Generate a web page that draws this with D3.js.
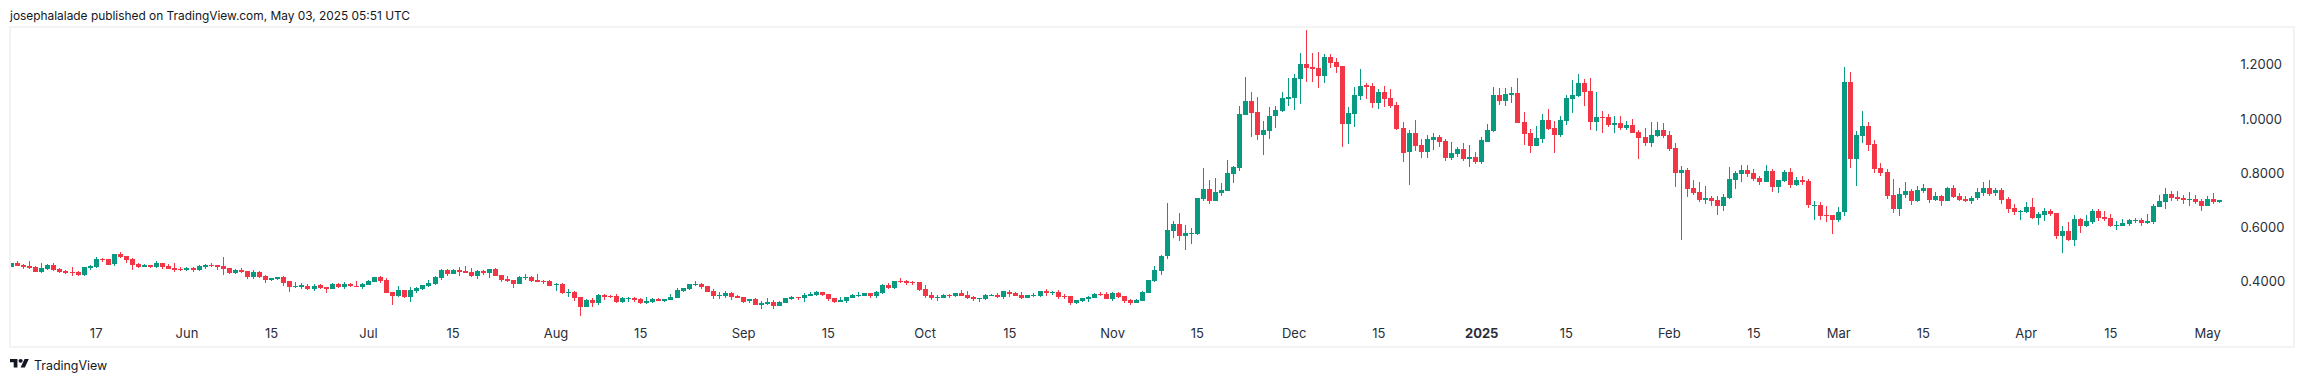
<!DOCTYPE html>
<html>
<head>
<meta charset="utf-8">
<style>
    html, body { margin: 0; padding: 0; background: #fff; }
    svg { display: block; }
    text { font-family: Inter, "Liberation Sans", sans-serif; fill: #131722; }
    .tick text { fill: #2a2e39; }
</style>
<script src="https://cdn.jsdelivr.net/npm/d3@7"></script>
</head>
<body>
<svg id="chart" width="2304" height="382"></svg>
<script>
// daily candles, first one is 2024-05-03, last one 2025-05-03
const firstDay = Date.UTC(2024, 4, 3);
const opens = [
    .455,.469,.463,.458,.454,.436,.447,.462,.447,.439,
    .436,.436,.425,.451,.454,.484,.484,.465,.502,.495,
    .484,.465,.455,.462,.454,.469,.458,.451,.448,.443,
    .451,.443,.455,.463,.462,.458,.451,.432,.443,.439,
    .417,.436,.421,.406,.410,.417,.403,.381,.382,.384,
    .374,.386,.381,.373,.392,.381,.392,.384,.381,.388,
    .399,.417,.406,.362,.347,.369,.344,.366,.373,.384,
    .392,.414,.443,.428,.443,.439,.436,.421,.439,.432,
    .447,.425,.410,.406,.392,.414,.417,.406,.403,.403,
    .387,.392,.358,.362,.344,.307,.333,.322,.351,.349,
    .347,.325,.336,.340,.336,.322,.325,.336,.329,.333,
    .340,.366,.373,.388,.392,.384,.366,.347,.347,.358,
    .347,.344,.329,.336,.314,.318,.325,.310,.322,.336,
    .344,.340,.347,.351,.362,.355,.340,.325,.329,.340,
    .347,.347,.358,.347,.358,.388,.377,.403,.403,.400,
    .399,.373,.351,.340,.340,.352,.347,.358,.351,.344,
    .336,.336,.349,.351,.344,.362,.358,.351,.340,.349,
    .347,.366,.358,.362,.347,.347,.322,.329,.336,.340,
    .356,.355,.336,.358,.347,.333,.321,.329,.358,.403,
    .440,.495,.587,.613,.569,.576,.576,.705,.742,.698,
    .727,.735,.797,.819,1.015,1.066,1.026,.941,.956,1.011,
    1.029,1.074,1.077,1.147,1.203,1.192,1.188,1.159,1.229,1.210,
    1.195,.980,1.018,1.085,1.125,1.122,1.059,1.100,1.077,1.052,
    .967,.878,.948,.904,.878,.923,.934,.919,.856,.871,
    .889,.852,.860,.841,.915,.956,1.088,1.066,1.088,1.096,
    .989,.948,.900,.926,.996,.967,.941,.993,1.074,1.085,
    1.133,1.103,.989,1.007,1.007,.978,.985,.967,.978,.952,
    .934,.911,.937,.959,.941,.893,.801,.812,.746,.731,
    .701,.709,.701,.679,.709,.775,.797,.812,.801,.782,
    .768,.808,.749,.771,.805,.757,.775,.771,.679,.683,
    .646,.646,.628,.657,1.136,.852,.937,.974,.908,.819,
    .805,.720,.668,.720,.735,.698,.735,.746,.701,.716,
    .698,.746,.716,.705,.698,.709,.727,.746,.727,.738,
    .705,.672,.658,.657,.676,.635,.646,.661,.653,.569,
    .587,.554,.631,.605,.620,.661,.639,.635,.605,.605,
    .613,.624,.628,.617,.620,.676,.694,.723,.712,.709,
    .701,.705,.698,.679,.705,.694
];
const highs = [
    .469,.476,.467,.476,.458,.469,.464,.469,.451,.443,
    .454,.439,.454,.462,.491,.487,.484,.502,.510,.495,
    .487,.469,.465,.462,.476,.469,.465,.469,.454,.454,
    .454,.462,.465,.469,.462,.491,.451,.447,.451,.439,
    .443,.439,.425,.414,.417,.421,.403,.399,.395,.392,
    .392,.392,.381,.395,.395,.399,.395,.403,.395,.406,
    .417,.421,.414,.362,.384,.369,.381,.381,.388,.406,
    .421,.447,.447,.447,.454,.458,.451,.443,.443,.447,
    .451,.425,.421,.406,.421,.428,.421,.428,.406,.406,
    .395,.395,.373,.366,.344,.336,.340,.355,.355,.351,
    .355,.344,.344,.344,.340,.344,.340,.340,.336,.355,
    .377,.377,.392,.403,.395,.384,.373,.362,.366,.362,
    .351,.344,.336,.340,.329,.340,.333,.329,.340,.347,
    .344,.358,.362,.366,.362,.355,.340,.344,.344,.355,
    .362,.358,.358,.366,.392,.395,.403,.414,.406,.403,
    .399,.388,.362,.351,.355,.355,.358,.369,.366,.347,
    .340,.355,.355,.358,.366,.369,.362,.362,.351,.358,
    .366,.373,.366,.369,.355,.347,.333,.340,.347,.358,
    .362,.362,.362,.362,.347,.336,.336,.366,.406,.458,
    .499,.690,.624,.653,.609,.598,.709,.819,.775,.782,
    .764,.849,.827,1.048,1.155,1.100,1.081,.993,1.044,1.048,
    1.100,1.151,1.166,1.243,1.328,1.243,1.247,1.240,1.240,1.225,
    1.195,1.044,1.118,1.184,1.133,1.133,1.111,1.122,1.111,1.063,
    .989,.959,.996,.926,.941,.948,.941,.926,.915,.897,
    .911,.904,.878,.934,.982,1.118,1.114,1.114,1.118,1.151,
    1.026,.963,.974,1.018,1.037,.993,1.011,1.088,1.144,1.166,
    1.147,1.151,1.100,1.029,1.018,1.011,1.011,.993,1.000,.959,
    .967,.989,.989,.985,.956,.911,.827,.819,.775,.768,
    .753,.716,.716,.723,.823,.808,.830,.830,.816,.790,
    .830,.816,.775,.812,.819,.786,.790,.779,.698,.694,
    .679,.646,.676,1.192,1.173,.956,1.029,.989,.923,.838,
    .816,.779,.746,.768,.742,.753,.760,.746,.731,.720,
    .749,.757,.727,.716,.716,.746,.768,.775,.746,.746,
    .712,.687,.664,.694,.709,.657,.672,.668,.653,.605,
    .620,.646,.635,.646,.668,.668,.661,.650,.624,.631,
    .631,.635,.635,.650,.687,.720,.746,.735,.735,.720,
    .731,.720,.705,.716,.727,.701
];
const lows = [
    .455,.459,.448,.447,.436,.432,.443,.439,.433,.428,
    .421,.421,.421,.443,.451,.473,.462,.458,.487,.469,
    .443,.451,.454,.451,.451,.447,.447,.436,.439,.439,
    .436,.439,.447,.454,.443,.425,.428,.428,.432,.410,
    .410,.414,.395,.403,.406,.384,.362,.377,.373,.369,
    .366,.373,.358,.373,.377,.373,.381,.381,.373,.388,
    .399,.395,.358,.314,.344,.340,.325,.358,.369,.381,
    .388,.406,.421,.428,.421,.432,.417,.410,.425,.414,
    .421,.399,.399,.377,.392,.406,.399,.399,.392,.384,
    .366,.355,.344,.329,.274,.307,.307,.314,.333,.340,
    .322,.322,.325,.325,.318,.318,.322,.329,.325,.333,
    .340,.362,.369,.384,.373,.362,.336,.336,.340,.333,
    .340,.322,.322,.314,.299,.314,.299,.310,.322,.333,
    .333,.325,.347,.347,.347,.329,.322,.325,.322,.340,
    .344,.347,.340,.340,.355,.373,.373,.395,.388,.388,
    .366,.340,.333,.329,.340,.340,.344,.347,.336,.329,
    .325,.333,.347,.340,.336,.344,.347,.336,.340,.344,
    .344,.347,.351,.336,.336,.314,.318,.325,.325,.340,
    .347,.336,.329,.340,.321,.314,.321,.329,.358,.399,
    .425,.484,.561,.550,.517,.539,.572,.698,.687,.698,
    .716,.735,.764,.808,1.015,.934,.923,.867,.926,.967,
    1.026,1.048,1.033,1.055,1.136,1.136,1.114,1.133,1.188,1.170,
    .897,.908,.970,1.070,1.074,1.041,1.037,1.044,1.041,.959,
    .841,.757,.882,.856,.856,.886,.897,.845,.849,.860,
    .845,.823,.834,.834,.915,.952,1.052,1.048,1.059,.985,
    .904,.875,.900,.911,.959,.875,.934,.978,1.022,1.081,
    1.048,.959,.956,.948,.970,.948,.959,.959,.948,.852,
    .900,.897,.934,.930,.882,.749,.554,.712,.720,.694,
    .687,.679,.646,.661,.705,.742,.768,.786,.771,.757,
    .768,.731,.727,.768,.746,.753,.757,.672,.628,.628,
    .620,.576,.620,.642,.819,.753,.911,.882,.801,.790,
    .705,.653,.642,.709,.683,.694,.727,.690,.698,.679,
    .698,.709,.698,.694,.687,.701,.716,.716,.716,.687,
    .653,.646,.628,.653,.631,.609,.624,.642,.558,.506,
    .550,.532,.580,.602,.613,.624,.624,.602,.591,.605,
    .605,.617,.605,.613,.613,.676,.668,.698,.698,.687,
    .679,.687,.661,.679,.687,.690
];
const closes = [
    .469,.459,.455,.451,.437,.451,.463,.443,.437,.432,
    .433,.425,.454,.458,.484,.480,.462,.502,.491,.480,
    .462,.454,.462,.455,.469,.454,.447,.443,.444,.451,
    .443,.458,.463,.459,.455,.447,.432,.443,.437,.417,
    .436,.417,.406,.414,.417,.395,.381,.384,.386,.374,
    .384,.378,.373,.392,.381,.392,.383,.382,.392,.403,
    .417,.403,.358,.347,.369,.344,.369,.377,.388,.395,
    .417,.443,.428,.443,.436,.432,.421,.439,.432,.447,
    .421,.406,.403,.392,.417,.417,.403,.399,.399,.384,
    .392,.358,.362,.340,.307,.333,.322,.351,.344,.344,
    .325,.340,.341,.333,.322,.329,.336,.329,.336,.344,
    .369,.377,.392,.392,.381,.362,.347,.351,.358,.344,
    .340,.325,.336,.314,.322,.325,.310,.325,.340,.344,
    .340,.351,.355,.362,.351,.336,.325,.333,.344,.351,
    .351,.358,.347,.362,.388,.377,.403,.399,.395,.395,
    .369,.347,.340,.344,.351,.349,.358,.347,.340,.336,
    .340,.351,.352,.344,.366,.355,.347,.340,.351,.352,
    .366,.358,.362,.344,.344,.322,.333,.340,.344,.355,
    .352,.336,.358,.344,.329,.321,.333,.362,.406,.443,
    .495,.591,.613,.569,.580,.580,.709,.742,.698,.731,
    .738,.801,.823,1.018,1.066,1.022,.941,.959,1.011,1.033,
    1.077,1.081,1.151,1.203,1.188,1.184,1.159,1.229,1.206,1.192,
    .980,1.022,1.088,1.122,1.118,1.059,1.100,1.074,1.048,.963,
    .875,.948,.900,.878,.926,.934,.915,.856,.875,.889,
    .852,.860,.841,.923,.959,1.088,1.066,1.092,1.096,.985,
    .945,.900,.930,.996,.963,.941,.996,1.077,1.088,1.133,
    1.100,.989,1.007,1.004,.978,.985,.967,.978,.948,.930,
    .911,.941,.959,.937,.889,.801,.812,.742,.727,.701,
    .709,.698,.679,.712,.779,.801,.812,.797,.779,.768,
    .808,.749,.775,.805,.757,.775,.768,.683,.683,.642,
    .642,.628,.657,1.136,.852,.941,.974,.904,.816,.801,
    .716,.668,.723,.735,.698,.738,.746,.701,.716,.698,
    .746,.712,.701,.698,.709,.731,.746,.723,.738,.701,
    .668,.657,.662,.676,.635,.650,.661,.650,.569,.587,
    .554,.631,.605,.624,.661,.635,.631,.605,.609,.617,
    .628,.628,.617,.624,.679,.698,.723,.709,.705,.701,
    .705,.694,.679,.705,.694,.701
];
const priceTicks = [0.4, 0.6, 0.8, 1.0, 1.2];
const tickDates = [
    "2024-05-17", "2024-06-01", "2024-06-15", "2024-07-01", "2024-07-15", "2024-08-01",
    "2024-08-15", "2024-09-01", "2024-09-15", "2024-10-01", "2024-10-15", "2024-11-01",
    "2024-11-15", "2024-12-01", "2024-12-15", "2025-01-01", "2025-01-15", "2025-02-01",
    "2025-02-15", "2025-03-01", "2025-03-15", "2025-04-01", "2025-04-15", "2025-05-01"
];
const tickLabels = [
    "17", "Jun", "15", "Jul", "15", "Aug", "15", "Sep", "15", "Oct", "15", "Nov",
    "15", "Dec", "15", "2025", "15", "Feb", "15", "Mar", "15", "Apr", "15", "May"
];
const publishedLine = "josephalalade published on TradingView.com, May 03, 2025 05:51 UTC";

const upColor = "#089981", downColor = "#f23645", frameColor = "#f3f3f3";
const pane = {left: 10, top: 27, right: 2294, bottom: 347};

const svg = d3.select("#chart");
const dayMs = 86400000;
const dates = opens.map((d, i) => new Date(firstDay + i * dayMs));

const x = d3.scaleUtc().domain([dates[0], dates[dates.length - 1]]).range([11, 2219.3]);
const y = d3.scaleLinear().domain([0.4, 1.2]).range([281.7, 64.7]);

svg.append("text")
    .attr("x", 10).attr("y", 20)
    .style("font-size", "11.9px")
    .text(publishedLine);

svg.append("defs").append("clipPath").attr("id", "pane-clip")
    .append("rect")
    .attr("x", pane.left).attr("y", pane.top)
    .attr("width", pane.right - pane.left).attr("height", pane.bottom - pane.top);

// candles
const candles = svg.append("g")
    .attr("clip-path", "url(#pane-clip)")
    .attr("shape-rendering", "crispEdges")
    .selectAll("g")
    .data(dates)
  .enter().append("g")
    .each(function(d, i) {
        let g = d3.select(this),
            color = closes[i] >= opens[i] ? upColor : downColor,
            cx = Math.round(x(d)),
            top = Math.round(y(Math.max(opens[i], closes[i]))),
            bottom = Math.round(y(Math.min(opens[i], closes[i])));
        g.append("rect")
            .attr("x", cx)
            .attr("y", Math.round(y(highs[i])))
            .attr("width", 1)
            .attr("height", Math.max(1, Math.round(y(lows[i])) - Math.round(y(highs[i]))))
            .attr("fill", color);
        g.append("rect")
            .attr("x", cx - 2)
            .attr("y", top)
            .attr("width", 5)
            .attr("height", Math.max(1, bottom - top))
            .attr("fill", color);
    });

// pane frame goes over the clipped first candle
svg.append("rect")
    .attr("x", pane.left).attr("y", pane.top)
    .attr("width", pane.right - pane.left).attr("height", pane.bottom - pane.top)
    .attr("fill", "none")
    .attr("stroke", frameColor)
    .attr("stroke-width", 2);

// axes
const xAxis = d3.axisBottom(x)
    .tickValues(tickDates.map(d => new Date(d + "T00:00:00Z")))
    .tickFormat((d, i) => tickLabels[i])
    .tickSize(0)
    .tickPadding(0);
const xAxisG = svg.append("g")
    .attr("transform", "translate(0,338)")
    .call(xAxis);
xAxisG.select(".domain").remove();
xAxisG.selectAll("text")
    .attr("y", 0).attr("dy", 0)
    .style("font-size", "13px")
    .style("font-weight", (d, i) => tickLabels[i] === "2025" ? 700 : 400);

const yAxis = d3.axisRight(y)
    .tickValues(priceTicks)
    .tickFormat(d3.format(".4f"))
    .tickSize(0)
    .tickPadding(0);
const yAxisG = svg.append("g")
    .attr("transform", "translate(2240.5,0)")
    .call(yAxis);
yAxisG.select(".domain").remove();
yAxisG.selectAll("text").style("font-size", "13px");

// logo
const logo = svg.append("g").attr("transform", "translate(10,357.1) scale(0.53,0.47)");
logo.append("path")
    .attr("d", "M14 22H7V11H0V4h14v18zM28 22h-8l7.5-18h8L28 22z")
    .attr("fill", "#131722");
logo.append("circle")
    .attr("cx", 20).attr("cy", 8).attr("r", 4)
    .attr("fill", "#131722");
svg.append("text")
    .attr("x", 34).attr("y", 370)
    .style("font-size", "12.4px")
    .text("TradingView");
</script>
</body>
</html>
